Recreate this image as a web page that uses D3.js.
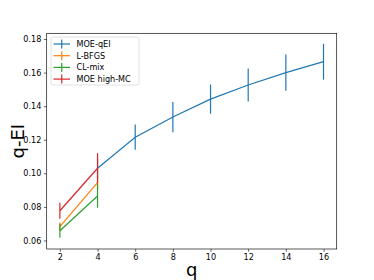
<!DOCTYPE html>
<html>
<head>
<meta charset="utf-8">
<script src="https://cdn.jsdelivr.net/npm/d3@7"></script>
<style>
  body { margin: 0; background: #fff; }
  svg { font-family: "DejaVu Sans", sans-serif; }
</style>
</head>
<body>
<div id="chart"></div>
<script>
// data
const seriesNames = ["MOE-qEI", "L-BFGS", "CL-mix", "MOE high-MC"];
const colors = ["#1f77b4", "#ff7f0e", "#2ca02c", "#d62728"];

const qMoe = [4, 6, 8, 10, 12, 14, 16];
const moeMean = [0.103, 0.1215, 0.1335, 0.1442, 0.1526, 0.160, 0.1665];
const moeErr = [0.006, 0.0075, 0.009, 0.0087, 0.0099, 0.0108, 0.0107];

const qShort = [2, 4];
const lbfgsMean = [0.0682, 0.0944];
const lbfgsErr = [0.0025, 0.004];
const clMean = [0.0658, 0.0865];
const clErr = [0.0042, 0.007];
const highMean = [0.0777, 0.103];
const highErr = [0.0048, 0.009];

const xTicks = [2, 4, 6, 8, 10, 12, 14, 16];
const yTicks = [0.06, 0.08, 0.10, 0.12, 0.14, 0.16, 0.18];

const series = [
  { q: qMoe, mean: moeMean, err: moeErr },
  { q: qShort, mean: lbfgsMean, err: lbfgsErr },
  { q: qShort, mean: clMean, err: clErr },
  { q: qShort, mean: highMean, err: highErr }
];

const width = 374, height = 280;
const margin = { top: 33.3, right: 37.3, bottom: 31, left: 46.7 };
const w = width - margin.left - margin.right;
const h = height - margin.top - margin.bottom;

const svg = d3.select("#chart")
  .append("svg")
  .attr("width", width)
  .attr("height", height);

const g = svg.append("g")
  .attr("transform", "translate(" + margin.left + "," + margin.top + ")");

const x = d3.scaleLinear().domain([1.3, 16.7]).range([0, w]);
const y = d3.scaleLinear().domain([0.0549, 0.1834]).range([h, 0]);

// axes
const xAxis = g.append("g")
  .attr("transform", "translate(0," + h + ")")
  .call(d3.axisBottom(x).tickValues(xTicks).tickSize(2.8).tickPadding(2.5).tickFormat(d3.format("d")));
const yAxis = g.append("g")
  .call(d3.axisLeft(y).tickValues(yTicks).tickSize(2.8).tickPadding(2.5).tickFormat(d3.format(".2f")));
[xAxis, yAxis].forEach(a => {
  a.select(".domain").remove();
  a.selectAll("text").attr("font-size", 8.1).attr("fill", "#000").attr("font-family", "DejaVu Sans");
  a.selectAll("line").attr("stroke", "#000").attr("stroke-width", 0.6);
});

// frame
g.append("rect")
  .attr("width", w).attr("height", h)
  .attr("fill", "none").attr("stroke", "#000").attr("stroke-width", 0.65);

// lines with error bars
const line = d3.line().x(d => x(d.q)).y(d => y(d.m));
series.forEach((s, i) => {
  const pts = s.q.map((q, j) => ({ q: q, m: s.mean[j], e: s.err[j] }));
  const sg = g.append("g");
  sg.append("path")
    .datum(pts)
    .attr("d", line)
    .attr("fill", "none")
    .attr("stroke", colors[i])
    .attr("stroke-width", 1.2);
  sg.selectAll(".eb")
    .data(pts)
    .enter().append("line")
    .attr("x1", d => x(d.q)).attr("x2", d => x(d.q))
    .attr("y1", d => y(d.m - d.e)).attr("y2", d => y(d.m + d.e))
    .attr("stroke", colors[i])
    .attr("stroke-width", 1.2);
});

// legend
const lg = svg.append("g").attr("transform", "translate(51,37)");
lg.append("rect")
  .attr("width", 88).attr("height", 48)
  .attr("rx", 2)
  .attr("fill", "#fff").attr("fill-opacity", 0.8)
  .attr("stroke", "#ccc").attr("stroke-width", 0.6);
seriesNames.forEach((name, i) => {
  const yy = 7 + i * 11.7;
  lg.append("line")
    .attr("x1", 2.5).attr("x2", 19).attr("y1", yy).attr("y2", yy)
    .attr("stroke", colors[i]).attr("stroke-width", 1.2);
  lg.append("line")
    .attr("x1", 10.75).attr("x2", 10.75).attr("y1", yy - 4.5).attr("y2", yy + 4.5)
    .attr("stroke", colors[i]).attr("stroke-width", 1.2);
  lg.append("text")
    .attr("x", 25.5).attr("y", yy + 3)
    .attr("font-size", 8.1)
    .text(name);
});

// axis labels
svg.append("text")
  .attr("x", margin.left + w / 2).attr("y", 276)
  .attr("text-anchor", "middle")
  .attr("font-size", 18)
  .text("q");
svg.append("text")
  .attr("transform", "translate(24," + (margin.top + h / 2) + ") rotate(-90)")
  .attr("text-anchor", "middle")
  .attr("font-size", 18)
  .text("q-EI");
</script>
</body>
</html>
